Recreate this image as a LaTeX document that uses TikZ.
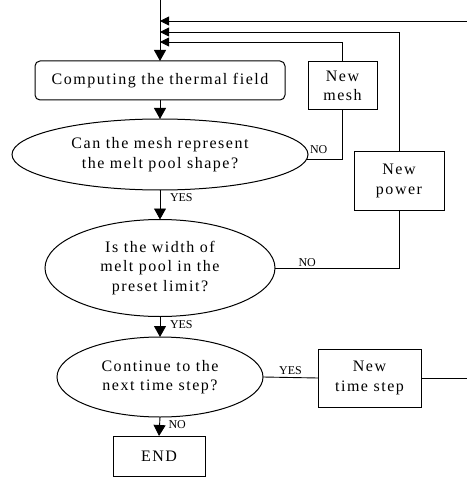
\documentclass[tikz,border=0pt]{standalone}
\usepackage{fontspec}
\setmainfont{Liberation Serif}
\newfontfamily\lsfont[LetterSpace=9.5]{Liberation Serif}
\usetikzlibrary{shapes.geometric,arrows.meta}
\begin{document}
\begin{tikzpicture}[x=1pt,y=-1pt,
  every node/.style={inner sep=0pt,outer sep=0pt},
  txt/.style={font=\lsfont\fontsize{16}{19.5}\selectfont,align=center},
  boxr/.style={txt,draw,line width=1pt,rounded corners=5pt,minimum width=250pt,minimum height=39pt},
  boxp/.style={txt,draw,line width=1pt},
  oval/.style={txt,draw,ellipse,line width=1pt},
  lbl/.style={font=\fontsize{12}{13}\selectfont},
  conn/.style={line width=0.9pt},
  darr/.style={conn,-{Triangle[length=11pt,width=12pt]}},
  larr/.style={conn,-{Triangle[length=9pt,width=9pt]}}]
\useasboundingbox (0,0) rectangle (466,478);
\node[boxr] (comp) at (160,80.5) {Computing the thermal field};
\node[oval,minimum width=296pt,minimum height=71pt] (q1) at (160,154.5) {Can the mesh represent\\the melt pool shape?};
\node[oval,minimum width=230pt,minimum height=97pt] (q2) at (160,268) {Is the width of\\melt pool in the\\preset limit?};
\node[oval,minimum width=206pt,minimum height=80pt] (q3) at (160,377) {Continue to the\\next time step?};
\node[boxp,minimum width=92pt,minimum height=40pt] (endb) at (159,456) {END};
\node[boxp,minimum width=69pt,minimum height=48pt] (mesh) at (342.5,86) {New\\mesh};
\node[boxp,minimum width=90pt,minimum height=58pt] (power) at (399,181) {New\\power};
\node[boxp,minimum width=103pt,minimum height=58pt] (tstep) at (369.5,378) {New\\time step};
\coordinate (top) at (160,0);
\coordinate (m1) at (160,21);
\coordinate (m2) at (160,32);
\coordinate (m3) at (160,42);
\coordinate (r1) at (467.5,378);
\draw[darr] (top) -- (comp.north);
\draw[darr] (comp.south) -- (q1.north);
\draw[darr] (q1.south) -- node[lbl,anchor=west,xshift=10pt,yshift=7pt]{YES} (q2.north);
\draw[darr] (q2.south) -- node[lbl,anchor=west,xshift=10pt,yshift=2pt]{YES} (q3.north);
\draw[darr] (q3.south) -- node[lbl,anchor=west,xshift=9pt,yshift=2pt]{NO} (endb.north);
\draw[conn] (q1.-2) -| node[lbl,pos=0.17,anchor=south,yshift=6pt]{NO} (mesh.south);
\draw[larr] (mesh.north) |- (m3);
\draw[conn] (q2.east) -| node[lbl,pos=0.13,anchor=south,yshift=1pt]{NO} (power.south);
\draw[larr] (power.north) |- (m2);
\draw[conn] (q3.east) -- node[lbl,anchor=south,yshift=3pt]{YES} (tstep.west);
\draw[conn] (tstep.east) -- (r1);
\draw[larr] (r1) |- (m1);
\end{tikzpicture}
\end{document}
